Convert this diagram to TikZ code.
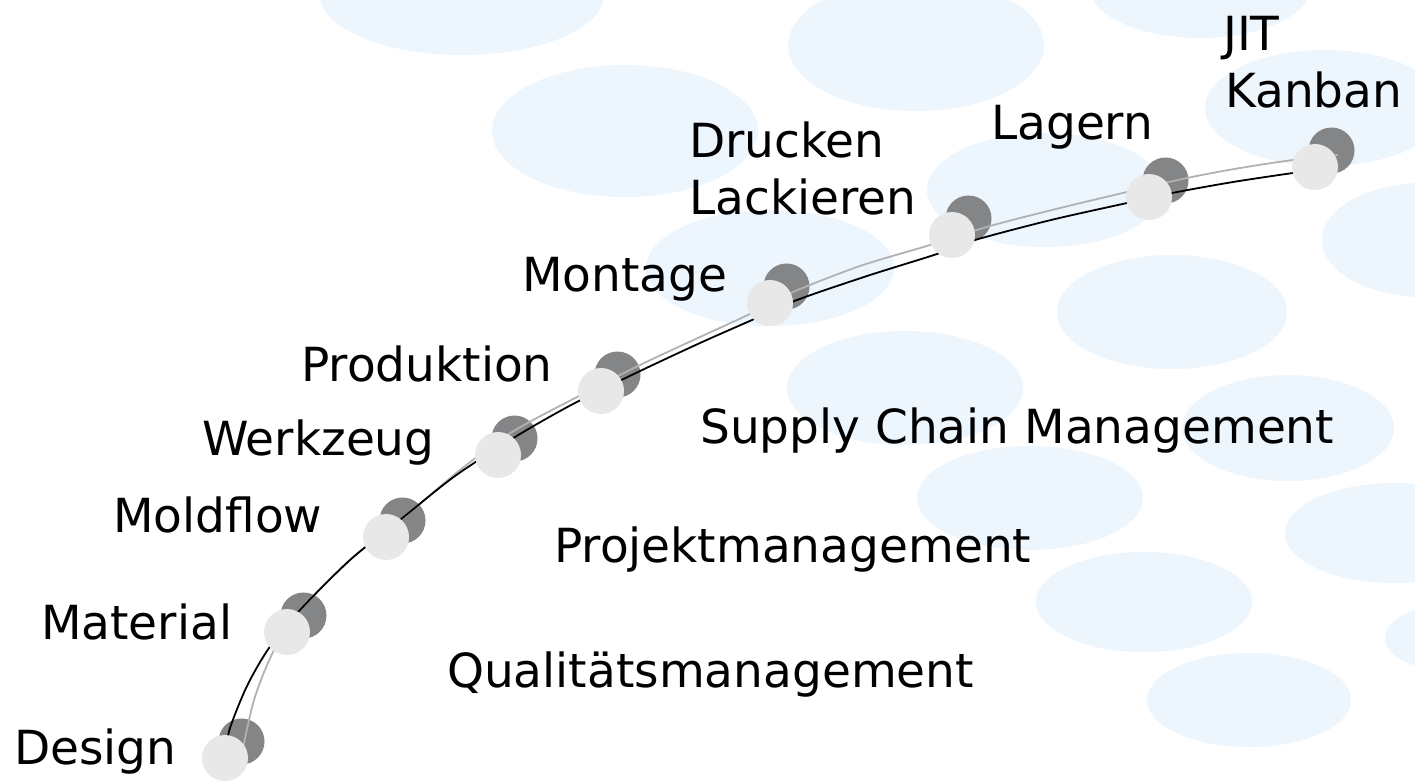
\documentclass[tikz,border=0pt]{standalone}
\usepackage{fontspec}
\setmainfont{DejaVu Sans}
\definecolor{bgblue}{RGB}{237,245,253}
\definecolor{dotlight}{RGB}{232,232,232}
\definecolor{dotdark}{RGB}{132,133,135}
\definecolor{linegray}{RGB}{178,178,178}
\tikzset{
  blob/.style={fill=bgblue, draw=none},
  lightdot/.style={circle, fill=dotlight, draw=none, minimum size=46pt, inner sep=0pt},
  darkdot/.style={circle, fill=dotdark, draw=none, minimum size=46pt, inner sep=0pt},
  lbl/.style={anchor=base west, inner sep=0pt, font=\fontsize{47}{57}\selectfont},
  blackpath/.style={draw=black, line width=1.8pt},
  graypath/.style={draw=linegray, line width=1.8pt}
}
\begin{document}
\begin{tikzpicture}[x=1pt,y=-1pt]
\useasboundingbox (0,0) rectangle (1415,780);
\fill[white] (0,0) rectangle (1415,780);
% background blobs
\begin{scope}
\clip (0,0) rectangle (1415,780);
\fill[blob] (462,-5) ellipse [x radius=142, y radius=60];
\fill[blob] (625,131) ellipse [x radius=133, y radius=66];
\fill[blob] (916,45) ellipse [x radius=128, y radius=66];
\fill[blob] (1200,-15) ellipse [x radius=112, y radius=53];
\fill[blob] (770,268) ellipse [x radius=124, y radius=58];
\fill[blob] (1045,190) ellipse [x radius=118, y radius=57];
\fill[blob] (1325,108) ellipse [x radius=120, y radius=58];
\fill[blob] (1425,240) ellipse [x radius=103, y radius=57];
\fill[blob] (1172,312) ellipse [x radius=115, y radius=57];
\fill[blob] (905,388) ellipse [x radius=118, y radius=57];
\fill[blob] (1288,428) ellipse [x radius=106, y radius=53];
\fill[blob] (1030,498) ellipse [x radius=113, y radius=52];
\fill[blob] (1395,533) ellipse [x radius=110, y radius=50];
\fill[blob] (1144,602) ellipse [x radius=108, y radius=50];
\fill[blob] (1445,638) ellipse [x radius=60, y radius=32];
\fill[blob] (1249,700) ellipse [x radius=102, y radius=47];
\end{scope}
% dark dots
\node[darkdot] (k1) at (241.5,741.5) {};
\node[darkdot] (k2) at (303.5,615.5) {};
\node[darkdot] (k3) at (402.5,520.5) {};
\node[darkdot] (k4) at (514.5,438.5) {};
\node[darkdot] (k5) at (617.5,374.5) {};
\node[darkdot] (k6) at (786.5,286.5) {};
\node[darkdot] (k7) at (968.5,218.5) {};
\node[darkdot] (k8) at (1165.5,180.5) {};
\node[darkdot] (k9) at (1331.5,150.5) {};
% connecting curves
\draw[graypath] plot[smooth, tension=0.5] coordinates {(241,758) (254,700) (273,652) (296,615) (352,558) (402,519) (460,470) (512,432) (577,397) (640,365) (700,337) (752,313) (793,292) (860,266) (930,245) (990,226) (1060,208) (1127,192) (1187,178) (1240,168) (1293,160) (1338,155)};
\draw[blackpath] plot[smooth, tension=0.5] coordinates {(226,750) (230,728) (247,686) (269,648) (300,610) (350,560) (400,520) (455,476) (515,437) (573,404) (638,372) (700,343) (752,320) (797,300) (867,276) (937,254) (975,240) (1051,220) (1127,203) (1172,193) (1233,182) (1293,173) (1312,171)};
% light dots
\node[lightdot] (d1) at (225,758) {};
\node[lightdot] (d2) at (287,632) {};
\node[lightdot] (d3) at (386,537) {};
\node[lightdot] (d4) at (498,455) {};
\node[lightdot] (d5) at (601,391) {};
\node[lightdot] (d6) at (770,303) {};
\node[lightdot] (d7) at (952,235) {};
\node[lightdot] (d8) at (1149,197) {};
\node[lightdot] (d9) at (1315,167) {};
% labels
\node[lbl] (l1) at (14,764) {Design};
\node[lbl] (l2) at (41,639) {Material};
\node[lbl] (l3) at (113,532) {Moldflow};
\node[lbl] (l4) at (202,455) {Werkzeug};
\node[lbl] (l5) at (301,381) {Produktion};
\node[lbl] (l6) at (522,291) {Montage};
\node[lbl] (l7a) at (689,157) {Drucken};
\node[lbl] (l7b) at (689,214) {Lackieren};
\node[lbl] (l8) at (991,139) {Lagern};
\node[lbl] (l9a) at (1223,50) {JIT};
\node[lbl] (l9b) at (1225,107) {Kanban};
\node[lbl] (s1) at (700,443) {Supply Chain Management};
\node[lbl] (s2) at (554,562) {Projektmanagement};
\node[lbl] (s3) at (447,687) {Qualitätsmanagement};
\end{tikzpicture}
\end{document}
